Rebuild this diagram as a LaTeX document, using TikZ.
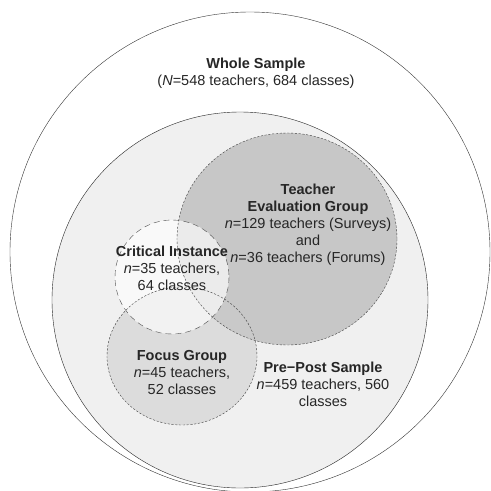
\documentclass[tikz,border=0pt]{standalone}
\usepackage{fontspec}
\setmainfont{Liberation Sans}
\usepackage{tikz}

\begin{document}
\begin{tikzpicture}[x=1pt, y=-1pt,
    every node/.style={align=center, inner sep=0pt, font=\fontsize{14.5}{17}\selectfont, text=black!85},
    fine/.style={draw=black!75, thin, dash pattern=on 2.2pt off 1.6pt},
    coarse/.style={draw=black!70, thin, dash pattern=on 6pt off 4pt}]
    \useasboundingbox (0,0) rectangle (491,491);
    % sets, from the outside in
    \draw[black!80, fill=white] (250,252) circle (240);
    \draw[black!85, fill=black!6] (240,300) circle (188);
    \fill[black!22] (287,239) ellipse (110 and 106);
    \fill[black!20, fill opacity=0.55] (182,356) ellipse (75 and 69);
    \fill[white, fill opacity=0.65] (172,277) circle (57);
    \draw[fine] (287,239) ellipse (110 and 106);
    \draw[fine] (182,356) ellipse (75 and 69);
    \draw[coarse] (172,277) circle (57);
    % labels
    \node (whole) at (256,73) {\textbf{Whole Sample}\\(\textit{N}=548 teachers, 684 classes)};
    \node (teval) at (308,225) {\textbf{Teacher}\\\textbf{Evaluation Group}\\\textit{n}=129 teachers (Surveys)\\and\\\textit{n}=36 teachers (Forums)};
    \node (crit) at (172,268) {\textbf{Critical Instance}\\\textit{n}=35 teachers,\\64 classes};
    \node (focus) at (182,373) {\textbf{Focus Group}\\\textit{n}=45 teachers,\\52 classes};
    \node (prepost) at (323,384) {\textbf{Pre−Post Sample}\\\textit{n}=459 teachers, 560\\classes};
\end{tikzpicture}
\end{document}
